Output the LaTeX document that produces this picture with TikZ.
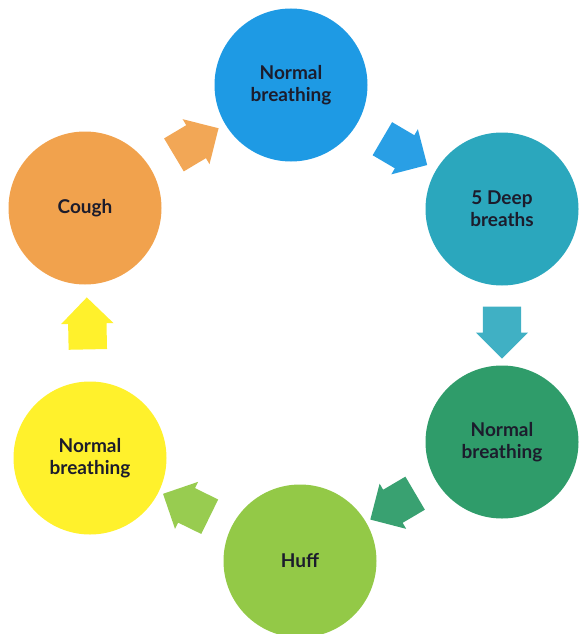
\documentclass[tikz,border=0pt]{standalone}
\usepackage{fontspec}
\setmainfont{Lato}
\usepackage{tikz}
\usetikzlibrary{shapes.arrows}
\definecolor{inkText}{HTML}{1C1C2C}
\definecolor{stepBlue}{HTML}{1E9AE4}
\definecolor{stepTeal}{HTML}{2BA7BD}
\definecolor{stepGreen}{HTML}{2F9C6A}
\definecolor{stepLime}{HTML}{93C947}
\definecolor{stepYellow}{HTML}{FFF12C}
\definecolor{stepOrange}{HTML}{F1A24D}

\begin{document}
\begin{tikzpicture}[
  x=1pt,y=-1pt,
  font=\fontsize{19}{22}\selectfont\bfseries,
  stage/.style={circle,minimum size=153pt,inner sep=0pt,
                align=center,text=inkText},
  flow/.style={single arrow,minimum width=46pt,minimum height=52pt,
               single arrow head extend=7pt,inner xsep=0pt,inner ysep=19pt,
               sloped,allow upside down},
]
  \useasboundingbox (0,0) rectangle (579,634);

  % breathing cycle
  \node[stage,fill=stepBlue]   (nb1)   at (291,85)  {Normal\\breathing};
  \node[stage,fill=stepTeal]   (deep)  at (502,209) {5 Deep\\breaths};
  \node[stage,fill=stepGreen]  (nb2)   at (502,442) {Normal\\breathing};
  \node[stage,fill=stepLime]   (huff)  at (300,561) {Huff};
  \node[stage,fill=stepYellow] (nb3)   at (90,458)  {Normal\\breathing};
  \node[stage,fill=stepOrange] (cough) at (85,208)  {Cough};

  % block arrows between stages
  \path (cough) -- node[flow,fill=stepOrange!95!white] (a1) {} (nb1);
  \path (nb1)   -- node[flow,fill=stepBlue!95!white]   (a2) {} (deep);
  \path (deep)  -- node[flow,fill=stepTeal!90!white,pos=0.47] (a3) {} (nb2);
  \path (nb2)   -- node[flow,fill=stepGreen!95!white]  (a4) {} (huff);
  \path (huff)  -- node[flow,fill=stepLime!95!white]   (a5) {} (nb3);
  \path (nb3)   -- node[flow,fill=stepYellow]          (a6) {} (cough);
\end{tikzpicture}
\end{document}
